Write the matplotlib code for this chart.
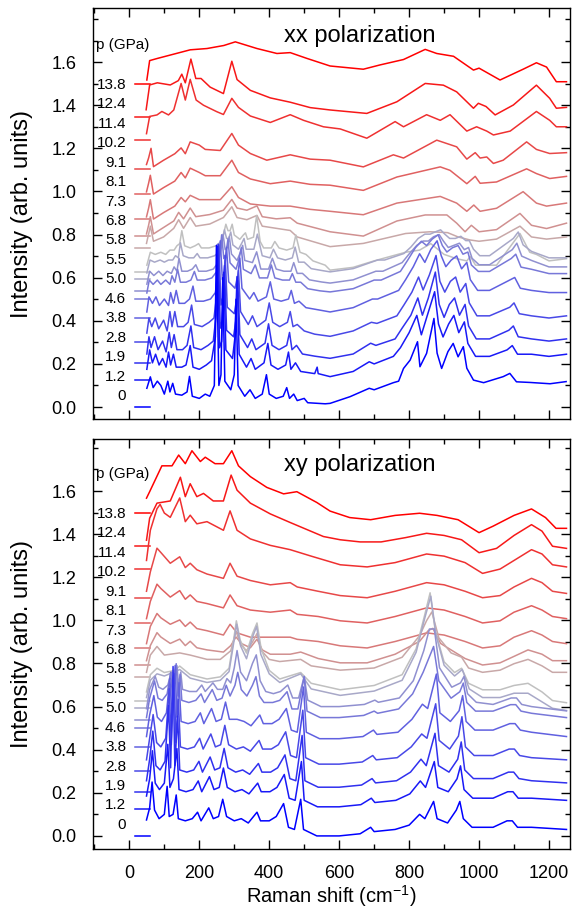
import numpy as np
import matplotlib.pyplot as plt

plt.rcParams['font.family'] = ['Liberation Sans', 'DejaVu Sans']

pressures = ['0', '1.2', '1.9', '2.8', '3.8', '4.6', '5.0', '5.5', '5.8',
             '6.8', '7.3', '8.1', '9.1', '10.2', '11.4', '12.4', '13.8']
offsets = [0.0, 0.125, 0.206, 0.303, 0.411, 0.499, 0.540, 0.592, 0.628,
           0.739, 0.793, 0.872, 0.988, 1.105, 1.238, 1.344, 1.497]

# xx polarization: (Raman shift, intensity above the curve's offset)
xx_00 = [(50,0.087),(60,0.14),(68,0.09),(80,0.12),(90,0.10),(100,0.06),(110,0.12),(116,0.07),(124,0.11),(132,0.06),(150,0.055),(165,0.07),(172,0.142),(180,0.05),(200,0.04),(217,0.06),(230,0.05),(243,0.10),(249,0.75),(256,0.10),(262,0.15),(267,0.60),(273,0.12),(290,0.08),(300,0.15),(305,0.50),(311,0.10),(330,0.05),(345,0.08),(360,0.04),(380,0.06),(392,0.15),(400,0.06),(420,0.04),(440,0.05),(450,0.09),(458,0.04),(470,0.06),(480,0.03),(500,0.04),(510,0.02),(560,0.015),(574,0.017),(631,0.048),(686,0.087),(700,0.08),(755,0.113),(770,0.12),(784,0.179),(803,0.218),(824,0.303),(831,0.187),(850,0.249),(871,0.411),(880,0.25),(893,0.179),(911,0.257),(926,0.295),(940,0.233),(955,0.280),(965,0.18),(984,0.125),(1013,0.113),(1069,0.141),(1088,0.156),(1107,0.117),(1146,0.114),(1203,0.108),(1249,0.118)]
xx_12 = [(50,0.05),(58,0.14),(66,0.08),(75,0.12),(85,0.07),(95,0.10),(105,0.06),(112,0.13),(118,0.07),(126,0.12),(134,0.06),(150,0.06),(162,0.07),(174,0.16),(182,0.06),(200,0.05),(220,0.07),(235,0.09),(246,0.2),(252,0.62),(258,0.15),(264,0.18),(270,0.5),(276,0.14),(295,0.10),(302,0.2),(308,0.48),(314,0.12),(335,0.06),(348,0.10),(360,0.05),(385,0.08),(396,0.17),(405,0.07),(425,0.05),(447,0.07),(455,0.13),(462,0.05),(475,0.08),(490,0.04),(530,0.03),(537,0.06),(540,0.03),(574,0.016),(640,0.04),(686,0.085),(700,0.075),(755,0.11),(775,0.15),(800,0.22),(822,0.3),(835,0.21),(852,0.30),(873,0.41),(884,0.26),(897,0.2),(913,0.26),(928,0.30),(942,0.22),(958,0.27),(968,0.17),(990,0.11),(1030,0.11),(1080,0.14),(1095,0.16),(1110,0.12),(1150,0.12),(1200,0.11),(1250,0.12)]
xx_19 = [(50,0.04),(56,0.12),(62,0.07),(72,0.12),(82,0.06),(95,0.10),(105,0.05),(114,0.14),(120,0.07),(128,0.13),(136,0.06),(152,0.06),(165,0.08),(176,0.17),(184,0.07),(205,0.06),(225,0.08),(240,0.10),(248,0.22),(254,0.55),(260,0.16),(266,0.2),(272,0.45),(278,0.15),(298,0.12),(305,0.2),(310,0.38),(316,0.13),(338,0.07),(350,0.11),(362,0.06),(388,0.09),(398,0.18),(408,0.08),(428,0.06),(450,0.08),(458,0.14),(465,0.06),(478,0.08),(495,0.04),(530,0.03),(574,0.02),(640,0.04),(690,0.09),(705,0.08),(760,0.11),(780,0.16),(805,0.22),(825,0.3),(838,0.22),(855,0.3),(875,0.42),(886,0.27),(900,0.21),(915,0.27),(930,0.30),(944,0.22),(960,0.27),(970,0.17),(992,0.11),(1030,0.11),(1085,0.15),(1098,0.17),(1112,0.12),(1150,0.11),(1200,0.10),(1250,0.11)]
xx_28 = [(50,0.04),(56,0.11),(64,0.07),(74,0.11),(84,0.06),(98,0.10),(108,0.05),(116,0.14),(122,0.07),(130,0.14),(138,0.07),(155,0.07),(168,0.09),(178,0.17),(186,0.08),(208,0.07),(228,0.09),(242,0.11),(250,0.22),(256,0.45),(262,0.17),(268,0.21),(274,0.40),(280,0.16),(300,0.13),(307,0.2),(312,0.33),(318,0.14),(340,0.08),(352,0.12),(365,0.07),(390,0.10),(400,0.18),(410,0.09),(430,0.07),(452,0.09),(460,0.14),(468,0.07),(480,0.08),(500,0.05),(530,0.035),(574,0.025),(640,0.05),(692,0.09),(708,0.085),(765,0.12),(785,0.17),(808,0.23),(827,0.3),(840,0.24),(858,0.31),(877,0.40),(888,0.28),(902,0.23),(918,0.28),(933,0.30),(946,0.23),(962,0.27),(972,0.18),(994,0.12),(1030,0.12),(1088,0.16),(1100,0.18),(1115,0.13),(1150,0.12),(1200,0.11),(1250,0.12)]
xx_38 = [(50,0.03),(56,0.10),(66,0.07),(76,0.10),(86,0.06),(100,0.09),(112,0.06),(118,0.12),(126,0.07),(134,0.13),(142,0.07),(158,0.07),(172,0.09),(182,0.15),(190,0.08),(212,0.08),(232,0.09),(246,0.12),(254,0.22),(260,0.36),(266,0.18),(272,0.22),(278,0.33),(284,0.17),(302,0.14),(310,0.2),(316,0.28),(322,0.14),(344,0.09),(356,0.12),(368,0.08),(392,0.10),(403,0.17),(413,0.09),(434,0.08),(455,0.09),(463,0.13),(472,0.07),(485,0.08),(505,0.05),(540,0.04),(574,0.03),(640,0.05),(695,0.09),(710,0.09),(770,0.13),(790,0.18),(812,0.24),(830,0.30),(845,0.26),(862,0.32),(880,0.36),(892,0.29),(905,0.24),(920,0.27),(936,0.29),(950,0.23),(965,0.26),(975,0.18),(996,0.13),(1030,0.13),(1090,0.18),(1102,0.19),(1118,0.14),(1150,0.13),(1200,0.12),(1250,0.12)]
xx_46 = [(50,0.03),(57,0.09),(68,0.07),(80,0.09),(90,0.07),(104,0.09),(116,0.07),(122,0.11),(130,0.08),(138,0.14),(146,0.08),(162,0.08),(176,0.09),(186,0.13),(194,0.09),(216,0.09),(236,0.10),(250,0.13),(258,0.2),(264,0.30),(270,0.19),(276,0.21),(282,0.28),(288,0.17),(305,0.14),(314,0.19),(320,0.24),(326,0.14),(348,0.12),(360,0.16),(372,0.10),(395,0.10),(406,0.16),(416,0.10),(438,0.09),(458,0.09),(466,0.12),(476,0.08),(490,0.08),(510,0.05),(545,0.04),(574,0.035),(640,0.05),(700,0.09),(720,0.09),(775,0.13),(795,0.18),(818,0.24),(835,0.27),(850,0.25),(866,0.28),(883,0.30),(895,0.25),(908,0.22),(924,0.24),(940,0.25),(954,0.21),(968,0.22),(978,0.16),(998,0.13),(1030,0.13),(1092,0.19),(1105,0.21),(1120,0.15),(1150,0.14),(1200,0.12),(1250,0.12)]
xx_50 = [(50,0.03),(58,0.09),(70,0.07),(84,0.09),(96,0.07),(108,0.09),(120,0.08),(128,0.11),(136,0.09),(142,0.15),(150,0.09),(166,0.09),(180,0.10),(190,0.12),(198,0.09),(220,0.09),(240,0.10),(254,0.13),(262,0.19),(268,0.26),(274,0.19),(280,0.20),(286,0.25),(292,0.17),(308,0.14),(318,0.18),(324,0.21),(330,0.14),(352,0.13),(364,0.18),(376,0.10),(398,0.10),(409,0.15),(420,0.10),(442,0.09),(462,0.09),(470,0.13),(480,0.08),(495,0.08),(515,0.05),(550,0.04),(574,0.035),(640,0.05),(705,0.09),(725,0.09),(780,0.13),(800,0.17),(822,0.21),(840,0.23),(855,0.23),(870,0.25),(886,0.26),(898,0.23),(912,0.20),(928,0.21),(944,0.22),(958,0.19),(970,0.20),(980,0.15),(1000,0.12),(1030,0.12),(1095,0.19),(1108,0.22),(1122,0.16),(1150,0.14),(1200,0.11),(1250,0.11)]
xx_55 = [(50,0.03),(59,0.09),(72,0.08),(88,0.09),(100,0.08),(112,0.09),(124,0.09),(132,0.11),(140,0.10),(146,0.17),(154,0.11),(170,0.10),(184,0.10),(194,0.12),(202,0.10),(224,0.10),(244,0.11),(258,0.13),(266,0.18),(272,0.23),(278,0.19),(284,0.19),(290,0.22),(296,0.16),(312,0.14),(322,0.17),(328,0.19),(334,0.14),(356,0.14),(366,0.21),(380,0.11),(402,0.10),(412,0.14),(424,0.10),(446,0.09),(466,0.10),(474,0.15),(484,0.08),(500,0.08),(520,0.05),(555,0.04),(574,0.035),(640,0.05),(710,0.09),(730,0.09),(785,0.12),(805,0.15),(826,0.19),(845,0.21),(860,0.21),(874,0.22),(890,0.23),(902,0.21),(916,0.19),(932,0.19),(948,0.20),(962,0.18),(972,0.18),(984,0.14),(1002,0.11),(1030,0.11),(1098,0.19),(1112,0.22),(1126,0.16),(1150,0.13),(1200,0.10),(1250,0.10)]
xx_58 = [(50,0.03),(60,0.09),(74,0.08),(90,0.09),(104,0.08),(116,0.10),(128,0.10),(136,0.12),(144,0.13),(150,0.19),(158,0.12),(174,0.11),(188,0.12),(198,0.13),(206,0.11),(228,0.11),(248,0.12),(262,0.14),(270,0.18),(276,0.22),(282,0.19),(288,0.19),(294,0.22),(300,0.17),(316,0.15),(326,0.17),(332,0.18),(338,0.15),(355,0.16),(364,0.26),(374,0.14),(384,0.11),(406,0.11),(416,0.14),(428,0.11),(450,0.10),(468,0.11),(476,0.17),(488,0.09),(505,0.08),(525,0.05),(560,0.03),(574,0.007),(640,0.02),(700,0.05),(790,0.09),(830,0.10),(862,0.13),(900,0.08),(936,0.06),(965,0.05),(975,0.07),(990,0.03),(1050,0.03),(1117,0.177),(1145,0.09),(1164,0.08),(1200,0.05),(1250,0.06)]
xx_68 = [(49,0.02),(60,0.10),(69,0.03),(98,0.05),(127,0.09),(141,0.13),(155,0.09),(174,0.14),(190,0.10),(230,0.11),(269,0.14),(293,0.19),(308,0.14),(336,0.13),(365,0.15),(380,0.10),(420,0.09),(460,0.08),(480,0.05),(574,0.005),(669,0.02),(790,0.066),(860,0.074),(910,0.07),(940,0.05),(974,0.036),(1000,0.03),(1050,0.04),(1117,0.10),(1150,0.05),(1193,0.04),(1250,0.05)]
xx_73 = [(49,0.01),(55,0.05),(60,0.09),(69,0.01),(98,0.04),(127,0.07),(141,0.11),(155,0.08),(174,0.13),(190,0.09),(230,0.10),(269,0.12),(293,0.17),(308,0.13),(336,0.12),(365,0.14),(380,0.09),(420,0.08),(460,0.085),(480,0.06),(574,0.02),(669,0.0),(765,0.07),(846,0.098),(908,0.098),(936,0.06),(960,0.02),(978,0.05),(1000,0.02),(1050,0.03),(1117,0.105),(1150,0.05),(1193,0.035),(1250,0.06)]
xx_81 = [(49,0.01),(55,0.05),(60,0.09),(69,0.0),(98,0.03),(130,0.06),(148,0.10),(160,0.08),(174,0.11),(200,0.09),(230,0.09),(260,0.09),(293,0.15),(312,0.10),(346,0.07),(403,0.06),(460,0.06),(517,0.045),(574,0.036),(669,0.02),(765,0.074),(889,0.105),(936,0.074),(965,0.036),(985,0.065),(1003,0.036),(1050,0.05),(1126,0.127),(1164,0.074),(1193,0.06),(1250,0.074)]
xx_91 = [(49,0.01),(55,0.05),(60,0.087),(69,0.0),(98,0.03),(130,0.06),(148,0.10),(160,0.075),(174,0.12),(200,0.10),(217,0.085),(260,0.085),(293,0.157),(312,0.10),(346,0.07),(403,0.048),(460,0.06),(517,0.045),(574,0.041),(669,0.017),(765,0.079),(889,0.126),(917,0.11),(965,0.048),(989,0.082),(1003,0.05),(1050,0.056),(1136,0.117),(1164,0.095),(1202,0.072),(1250,0.082)]
xx_102 = [(49,0.02),(55,0.05),(62,0.095),(69,0.01),(98,0.04),(130,0.07),(148,0.097),(160,0.07),(174,0.125),(200,0.11),(217,0.09),(260,0.085),(293,0.164),(312,0.11),(346,0.071),(393,0.04),(460,0.065),(517,0.045),(574,0.04),(669,0.009),(755,0.065),(784,0.05),(879,0.133),(936,0.102),(965,0.045),(989,0.075),(1003,0.05),(1022,0.055),(1041,0.025),(1069,0.04),(1136,0.125),(1164,0.09),(1202,0.071),(1250,0.075)]
xx_114 = [(49,0.03),(58,0.11),(79,0.117),(93,0.133),(112,0.117),(127,0.14),(148,0.263),(160,0.186),(174,0.282),(191,0.186),(212,0.162),(250,0.132),(269,0.119),(293,0.194),(312,0.152),(346,0.112),(403,0.082),(460,0.118),(498,0.092),(555,0.062),(603,0.052),(679,0.009),(760,0.086),(784,0.062),(850,0.118),(889,0.092),(917,0.118),(965,0.042),(993,0.062),(1022,0.042),(1041,0.024),(1089,0.042),(1164,0.133),(1202,0.092),(1221,0.062),(1250,0.062)]
xx_124 = [(48,0.035),(58,0.15),(80,0.16),(117,0.15),(140,0.17),(150,0.20),(160,0.16),(176,0.27),(190,0.18),(205,0.18),(231,0.14),(269,0.11),(293,0.26),(308,0.175),(346,0.125),(403,0.09),(460,0.07),(517,0.045),(574,0.034),(679,0.018),(765,0.072),(846,0.157),(898,0.149),(936,0.118),(984,0.042),(998,0.065),(1020,0.05),(1046,0.011),(1098,0.057),(1164,0.149),(1202,0.088),(1221,0.042),(1250,0.046)]
xx_138 = [(50,0.02),(58,0.11),(80,0.12),(127,0.14),(174,0.16),(222,0.166),(270,0.18),(303,0.197),(365,0.166),(422,0.143),(460,0.147),(508,0.12),(574,0.085),(669,0.07),(717,0.09),(784,0.115),(846,0.162),(879,0.143),(927,0.13),(984,0.066),(1000,0.075),(1060,0.02),(1126,0.07),(1164,0.10),(1193,0.08),(1221,0.012),(1250,0.012)]

# xy polarization
xy_00 = [(49,0.074),(58,0.13),(65,0.25),(72,0.12),(85,0.08),(100,0.10),(108,0.23),(114,0.09),(125,0.10),(134,0.19),(140,0.08),(160,0.07),(180,0.08),(195,0.11),(205,0.07),(227,0.13),(240,0.08),(255,0.09),(267,0.17),(278,0.09),(300,0.07),(320,0.08),(340,0.06),(365,0.11),(375,0.07),(400,0.07),(420,0.09),(441,0.15),(455,0.04),(472,0.03),(490,0.17),(498,0.03),(536,0.0),(600,0.0),(660,0.01),(690,0.04),(700,0.02),(760,0.03),(800,0.05),(830,0.10),(845,0.08),(870,0.16),(880,0.08),(910,0.06),(935,0.12),(945,0.16),(955,0.08),(980,0.04),(1040,0.04),(1080,0.07),(1095,0.07),(1110,0.04),(1150,0.04),(1250,0.03)]
xy_12 = [(49,0.06),(58,0.14),(66,0.27),(74,0.12),(86,0.09),(100,0.12),(110,0.30),(116,0.10),(126,0.14),(136,0.28),(142,0.09),(162,0.08),(182,0.09),(197,0.13),(207,0.08),(229,0.15),(242,0.09),(257,0.10),(269,0.19),(280,0.10),(302,0.08),(322,0.09),(342,0.07),(367,0.12),(377,0.08),(402,0.08),(422,0.10),(443,0.16),(457,0.05),(474,0.04),(492,0.22),(500,0.04),(538,0.01),(600,0.01),(662,0.02),(692,0.05),(702,0.03),(762,0.04),(802,0.07),(832,0.13),(847,0.10),(872,0.22),(882,0.10),(912,0.08),(937,0.14),(947,0.20),(957,0.09),(982,0.05),(1040,0.05),(1082,0.08),(1097,0.08),(1112,0.05),(1150,0.05),(1250,0.04)]
xy_19 = [(49,0.05),(58,0.15),(67,0.28),(76,0.12),(88,0.10),(102,0.14),(112,0.40),(118,0.11),(125,0.58),(130,0.12),(138,0.35),(144,0.10),(164,0.09),(184,0.10),(199,0.14),(209,0.09),(231,0.16),(244,0.10),(259,0.11),(271,0.20),(282,0.11),(304,0.09),(324,0.10),(344,0.08),(369,0.13),(379,0.09),(404,0.09),(424,0.11),(445,0.17),(459,0.06),(476,0.05),(494,0.26),(502,0.05),(540,0.02),(600,0.02),(664,0.03),(694,0.06),(704,0.04),(764,0.05),(804,0.09),(834,0.15),(849,0.12),(874,0.27),(884,0.12),(914,0.09),(939,0.15),(949,0.23),(959,0.10),(984,0.06),(1040,0.06),(1084,0.09),(1099,0.09),(1114,0.06),(1150,0.05),(1250,0.04)]
xy_28 = [(49,0.05),(58,0.15),(68,0.26),(78,0.13),(90,0.11),(104,0.15),(114,0.38),(120,0.12),(128,0.45),(133,0.13),(140,0.33),(146,0.11),(166,0.10),(186,0.11),(201,0.15),(211,0.10),(233,0.17),(246,0.11),(261,0.12),(273,0.21),(284,0.12),(306,0.10),(326,0.11),(346,0.09),(371,0.14),(381,0.10),(406,0.10),(426,0.12),(447,0.18),(461,0.07),(478,0.06),(496,0.28),(504,0.06),(542,0.03),(600,0.03),(666,0.04),(696,0.07),(706,0.05),(766,0.06),(806,0.11),(836,0.17),(851,0.15),(876,0.31),(886,0.14),(916,0.10),(941,0.16),(951,0.25),(961,0.11),(986,0.07),(1040,0.07),(1086,0.10),(1101,0.10),(1116,0.07),(1150,0.06),(1250,0.05)]
xy_38 = [(49,0.05),(58,0.15),(70,0.24),(80,0.14),(92,0.12),(106,0.16),(116,0.32),(122,0.13),(131,0.38),(136,0.14),(142,0.30),(148,0.12),(168,0.11),(188,0.12),(203,0.16),(213,0.11),(235,0.18),(248,0.12),(263,0.13),(275,0.21),(286,0.13),(308,0.13),(328,0.12),(348,0.10),(373,0.15),(383,0.11),(408,0.11),(428,0.13),(449,0.18),(463,0.08),(480,0.07),(498,0.28),(506,0.07),(544,0.04),(600,0.04),(668,0.05),(698,0.08),(708,0.06),(768,0.07),(808,0.13),(838,0.20),(853,0.18),(878,0.34),(888,0.16),(918,0.12),(943,0.17),(953,0.24),(963,0.12),(988,0.08),(1040,0.08),(1088,0.11),(1103,0.11),(1118,0.08),(1150,0.07),(1250,0.05)]
xy_46 = [(49,0.05),(58,0.14),(72,0.22),(82,0.14),(94,0.13),(108,0.16),(118,0.26),(124,0.14),(134,0.30),(139,0.15),(145,0.25),(150,0.13),(170,0.12),(190,0.13),(205,0.16),(215,0.12),(237,0.18),(250,0.13),(265,0.14),(277,0.20),(288,0.15),(302,0.20),(310,0.26),(320,0.18),(336,0.15),(352,0.20),(362,0.24),(372,0.15),(385,0.12),(410,0.12),(430,0.13),(451,0.17),(465,0.09),(482,0.09),(500,0.24),(508,0.08),(546,0.05),(600,0.05),(670,0.06),(700,0.08),(710,0.07),(770,0.09),(810,0.16),(840,0.26),(855,0.32),(870,0.38),(885,0.22),(920,0.14),(945,0.17),(955,0.21),(965,0.12),(990,0.08),(1040,0.08),(1090,0.11),(1105,0.11),(1120,0.08),(1150,0.07),(1250,0.05)]
xy_50 = [(49,0.05),(58,0.14),(74,0.20),(84,0.15),(96,0.14),(110,0.16),(120,0.22),(126,0.15),(136,0.25),(141,0.16),(147,0.22),(152,0.14),(172,0.13),(192,0.13),(207,0.16),(217,0.13),(239,0.17),(252,0.14),(267,0.14),(279,0.19),(290,0.17),(300,0.24),(308,0.32),(318,0.22),(335,0.18),(352,0.26),(363,0.30),(374,0.18),(390,0.13),(412,0.12),(432,0.13),(453,0.16),(467,0.10),(484,0.10),(500,0.20),(510,0.09),(548,0.06),(600,0.06),(672,0.07),(702,0.09),(712,0.08),(772,0.10),(812,0.18),(842,0.32),(858,0.42),(872,0.42),(887,0.24),(922,0.15),(947,0.17),(957,0.20),(967,0.12),(992,0.08),(1040,0.07),(1092,0.10),(1107,0.10),(1122,0.07),(1150,0.06),(1250,0.04)]
xy_55 = [(49,0.05),(60,0.13),(79,0.16),(100,0.15),(130,0.17),(144,0.18),(174,0.14),(222,0.12),(260,0.13),(285,0.17),(298,0.30),(307,0.39),(318,0.29),(335,0.23),(352,0.33),(364,0.38),(376,0.25),(400,0.16),(430,0.12),(490,0.16),(520,0.09),(603,0.06),(700,0.08),(780,0.13),(820,0.26),(845,0.42),(862,0.52),(877,0.34),(900,0.2),(930,0.15),(952,0.18),(972,0.09),(1010,0.05),(1060,0.05),(1100,0.07),(1140,0.07),(1180,0.03),(1210,0.0),(1250,-0.01)]
xy_58 = [(49,0.04),(60,0.12),(79,0.15),(100,0.13),(130,0.14),(144,0.16),(174,0.12),(222,0.10),(260,0.11),(285,0.15),(298,0.28),(306,0.37),(317,0.28),(335,0.22),(352,0.31),(365,0.36),(377,0.24),(400,0.14),(430,0.10),(490,0.13),(520,0.08),(603,0.05),(700,0.07),(780,0.12),(820,0.24),(845,0.40),(860,0.50),(875,0.32),(900,0.18),(930,0.13),(950,0.15),(970,0.08),(1010,0.05),(1060,0.05),(1100,0.07),(1140,0.08),(1180,0.04),(1210,0.0),(1250,-0.01)]
xy_68 = [(49,0.02),(60,0.10),(79,0.14),(100,0.10),(144,0.11),(174,0.10),(222,0.08),(260,0.08),(290,0.12),(305,0.21),(318,0.15),(335,0.12),(352,0.16),(365,0.20),(378,0.12),(400,0.08),(430,0.07),(490,0.08),(520,0.05),(603,0.03),(700,0.04),(780,0.09),(830,0.19),(850,0.26),(865,0.30),(885,0.18),(920,0.11),(950,0.09),(970,0.04),(1010,0.02),(1060,0.03),(1100,0.06),(1140,0.08),(1180,0.05),(1210,0.02),(1250,0.02)]
xy_73 = [(49,0.02),(60,0.09),(79,0.15),(90,0.13),(117,0.10),(144,0.12),(160,0.09),(174,0.11),(193,0.08),(222,0.07),(269,0.06),(290,0.09),(305,0.13),(320,0.10),(346,0.08),(365,0.12),(380,0.07),(403,0.05),(460,0.05),(490,0.06),(540,0.03),(603,0.01),(680,0.01),(760,0.05),(830,0.11),(855,0.16),(868,0.17),(890,0.10),(960,0.03),(1010,0.0),(1060,0.01),(1100,0.04),(1140,0.07),(1180,0.05),(1210,0.02),(1250,0.02)]
xy_81 = [(49,0.02),(60,0.10),(79,0.16),(90,0.14),(117,0.11),(144,0.13),(160,0.10),(174,0.12),(193,0.09),(222,0.08),(269,0.06),(288,0.11),(308,0.07),(346,0.05),(403,0.05),(460,0.05),(480,0.04),(540,0.03),(603,0.01),(680,0.0),(760,0.03),(850,0.07),(900,0.06),(960,0.03),(1010,0.0),(1060,0.01),(1100,0.05),(1150,0.08),(1180,0.06),(1210,0.03),(1250,0.02)]
xy_91 = [(49,0.02),(60,0.10),(79,0.18),(90,0.16),(117,0.12),(144,0.15),(160,0.11),(174,0.13),(193,0.10),(222,0.09),(269,0.07),(288,0.13),(308,0.08),(346,0.06),(403,0.05),(460,0.06),(480,0.04),(540,0.03),(603,0.01),(680,0.0),(760,0.03),(850,0.07),(900,0.06),(960,0.03),(1010,0.0),(1060,0.01),(1100,0.05),(1150,0.08),(1180,0.06),(1210,0.03),(1250,0.02)]
xy_102 = [(49,0.03),(60,0.12),(79,0.23),(90,0.21),(117,0.16),(144,0.19),(160,0.14),(174,0.16),(193,0.13),(222,0.11),(269,0.09),(288,0.16),(308,0.10),(346,0.08),(403,0.06),(460,0.07),(480,0.05),(540,0.03),(603,0.01),(680,0.0),(760,0.03),(850,0.07),(900,0.06),(960,0.03),(1010,0.0),(1060,0.01),(1100,0.05),(1150,0.09),(1180,0.07),(1210,0.03),(1250,0.02)]
xy_114 = [(49,0.04),(60,0.18),(79,0.28),(88,0.30),(100,0.26),(117,0.24),(144,0.33),(160,0.22),(174,0.25),(193,0.21),(222,0.22),(269,0.18),(288,0.27),(308,0.18),(346,0.14),(403,0.11),(460,0.09),(520,0.06),(603,0.02),(680,0.01),(760,0.03),(850,0.07),(900,0.06),(960,0.03),(1010,-0.02),(1060,0.0),(1100,0.04),(1150,0.09),(1180,0.07),(1210,0.02),(1250,0.01)]
xy_124 = [(49,0.028),(58,0.13),(79,0.20),(117,0.21),(146,0.32),(160,0.23),(174,0.29),(193,0.23),(212,0.245),(240,0.21),(269,0.21),(291,0.33),(308,0.26),(346,0.20),(403,0.15),(460,0.11),(555,0.045),(603,0.03),(660,0.02),(720,0.02),(790,0.04),(850,0.06),(900,0.05),(950,0.03),(1000,-0.03),(1050,-0.01),(1100,0.05),(1150,0.10),(1180,0.07),(1210,0.0),(1250,-0.01)]
xy_138 = [(49,0.07),(58,0.10),(93,0.22),(122,0.22),(141,0.27),(160,0.23),(179,0.29),(203,0.24),(217,0.26),(245,0.23),(269,0.23),(293,0.29),(312,0.22),(346,0.17),(393,0.12),(441,0.09),(479,0.10),(536,0.05),(574,0.01),(630,-0.02),(690,-0.03),(760,-0.01),(830,0.0),(880,-0.01),(940,-0.03),(1000,-0.09),(1040,-0.06),(1100,-0.01),(1150,0.02),(1190,-0.02),(1220,-0.07),(1250,-0.07)]

xx_spectra = [xx_00, xx_12, xx_19, xx_28, xx_38, xx_46, xx_50, xx_55, xx_58,
              xx_68, xx_73, xx_81, xx_91, xx_102, xx_114, xx_124, xx_138]
xy_spectra = [xy_00, xy_12, xy_19, xy_28, xy_38, xy_46, xy_50, xy_55, xy_58,
              xy_68, xy_73, xy_81, xy_91, xy_102, xy_114, xy_124, xy_138]


def curve_colour(i, n=17):
    blue = np.array([0, 0, 255]) / 255
    grey = np.array([192, 192, 192]) / 255
    red = np.array([255, 0, 0]) / 255
    mid = (n - 1) / 2
    if i <= mid:
        t = i / mid
        return tuple(blue * (1 - t) + grey * t)
    t = (i - mid) / mid
    return tuple(grey * (1 - t) + red * t)


fig = plt.figure(figsize=(5.74, 9.09), dpi=100)
ax1 = fig.add_axes([0.162, 0.5387, 0.831, 0.4525])
ax2 = fig.add_axes([0.162, 0.0657, 0.831, 0.451])

for ax, spectra, title in [(ax1, xx_spectra, 'xx polarization'),
                           (ax2, xy_spectra, 'xy polarization')]:
    for i in range(len(spectra) - 1, -1, -1):
        x, y = zip(*spectra[i])
        c = curve_colour(i)
        ax.plot(x, np.array(y) + offsets[i], color=c, lw=1.1)
        ax.plot([17, 60], [offsets[i], offsets[i]], color=c, lw=1.1)
        ax.text(-9, 0.051 + 0.0902 * i, pressures[i], ha='right', va='center',
                fontsize=11)
    ax.text(-94, 1.678, 'p (GPa)', ha='left', va='center', fontsize=11)
    ax.text(660, 1.722, title, ha='center', va='center', fontsize=17)

    ax.set_xlim(-104, 1260)
    ax.set_xticks(np.arange(0, 1201, 200))
    ax.set_xticks(np.arange(-100, 1260, 100), minor=True)
    ax.set_yticks(np.arange(0, 1.61, 0.2))
    ax.set_yticks(np.arange(0, 1.81, 0.1), minor=True)
    ax.tick_params(which='both', direction='in', top=True, right=True,
                   width=1.0, labelsize=13)
    ax.tick_params(which='major', length=6.5)
    ax.tick_params(which='minor', length=3.5)
    ax.tick_params(axis='y', which='major', pad=12)
    ax.tick_params(axis='x', which='major', pad=11)
    ax.yaxis.set_major_formatter(plt.FormatStrFormatter('%.1f'))
    for s in ax.spines.values():
        s.set_linewidth(1.0)
    ax.set_ylabel('Intensity (arb. units)', fontsize=17)
    ax.yaxis.set_label_coords(-0.126, 0.5)

ax1.set_ylim(-0.057, 1.851)
ax2.set_ylim(-0.062, 1.840)
ax1.tick_params(labelbottom=False)
ax2.set_xlabel('Raman shift (cm$^{\\mathregular{-1}}$)', fontsize=14.5)
ax2.xaxis.set_label_coords(0.5, -0.083)

fig.savefig('out.png', dpi=100)
